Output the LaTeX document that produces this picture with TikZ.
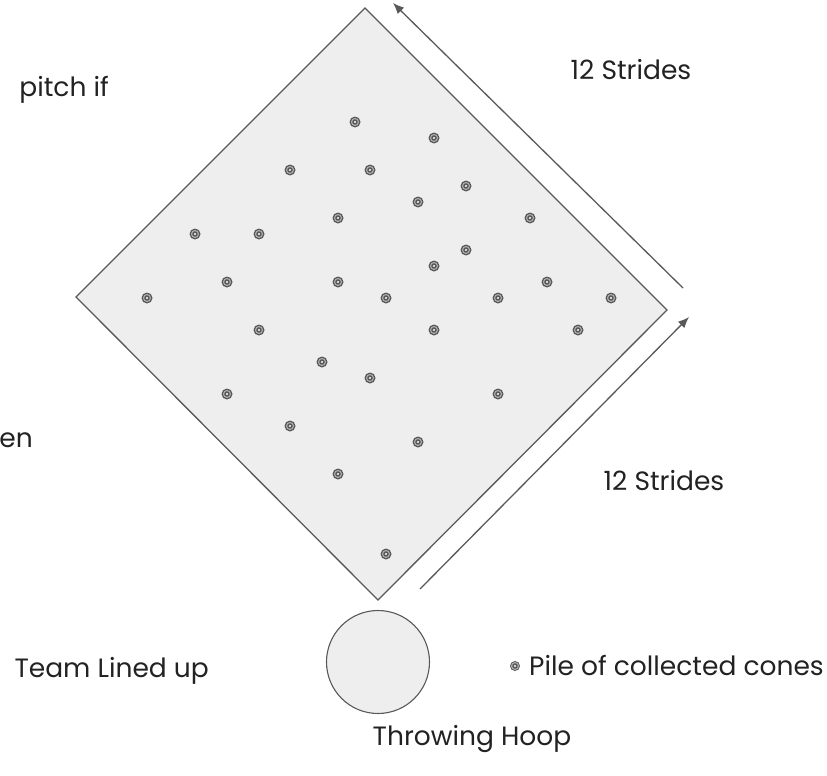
\documentclass[tikz,border=0pt]{standalone}
\usepackage{fontspec}
\setmainfont{Poppins}
\usetikzlibrary{arrows.meta,positioning}

\definecolor{linegray}{HTML}{595959}
\definecolor{fieldgray}{HTML}{EEEEEE}
\definecolor{textgray}{HTML}{222222}

\tikzset{
	field/.style={draw=linegray,fill=fieldgray,line width=1.3pt,line join=miter},
	stride/.style={draw=linegray,line width=1.3pt,-{Latex[length=11pt,width=9pt]}},
	hoop/.style={circle,draw=linegray,fill=fieldgray,line width=1.1pt,minimum size=103pt,inner sep=0pt},
	cone/.style={circle,fill=linegray,inner sep=0pt,minimum size=11pt,
		path picture={
			\fill[white!55!linegray] (path picture bounding box.center) circle (4pt);
			\fill[linegray] (path picture bounding box.center) circle (2.8pt);
			\fill[white] (path picture bounding box.center) circle (1.2pt);
		}},
	lbl/.style={text=textgray,font=\fontsize{26.5}{30}\selectfont,inner sep=0pt}
}

\begin{document}
\begin{tikzpicture}[x=1pt,y=-1pt]
		
		\useasboundingbox (0,0) rectangle (827,776);
		
		% playing area
		\coordinate (top) at (365,8);
		\coordinate (right) at (667,310);
		\coordinate (bottom) at (378,600);
		\coordinate (left) at (76,297);
		\draw[field] (top) -- (right) -- (bottom) -- (left) -- cycle;
		
		% stride arrows
		\coordinate (upstart) at (683,288);
		\coordinate (upend) at (393,3);
		\coordinate (lowstart) at (420,589);
		\coordinate (lowend) at (689,317);
		\draw[stride] (upstart) -- (upend);
		\draw[stride] (lowstart) -- (lowend);
		
		\node[lbl,anchor=base] (stridesup) at (631,79) {12 Strides};
		\node[lbl,anchor=base] (strideslow) at (664,490) {12 Strides};
		
		% cones
		\foreach \x/\y [count=\i] in {355/122,434/138,290/170,370/170,466/186,418/202,338/218,530/218,
			195/234,259/234,466/250,434/266,227/282,338/282,547/282,147/298,386/298,498/298,611/298,
			259/330,434/330,578/330,322/362,370/378,227/394,498/394,290/426,418/442,338/474,386/554}
			\node[cone] (c\i) at (\x,\y) {};
		
		% hoop
		\node[hoop] (hoop) at (378,662) {};
		\node[lbl,anchor=base] (hooptext) at (472,745) {Throwing Hoop};
		
		\node[lbl,anchor=base east] (team) at (209,677) {Team Lined up};
		
		% legend
		\node[cone,minimum size=10pt] (legendcone) at (515,666) {};
		\node[lbl,anchor=base west] (legendtext) at (529,675) {Pile of collected cones};
		
		% cut off text at the left
		\node[lbl,anchor=base east] (pitch) at (109,96) {pitch if};
		\node[lbl,anchor=base east] (en) at (33,447) {en};
	\end{tikzpicture}
\end{document}
